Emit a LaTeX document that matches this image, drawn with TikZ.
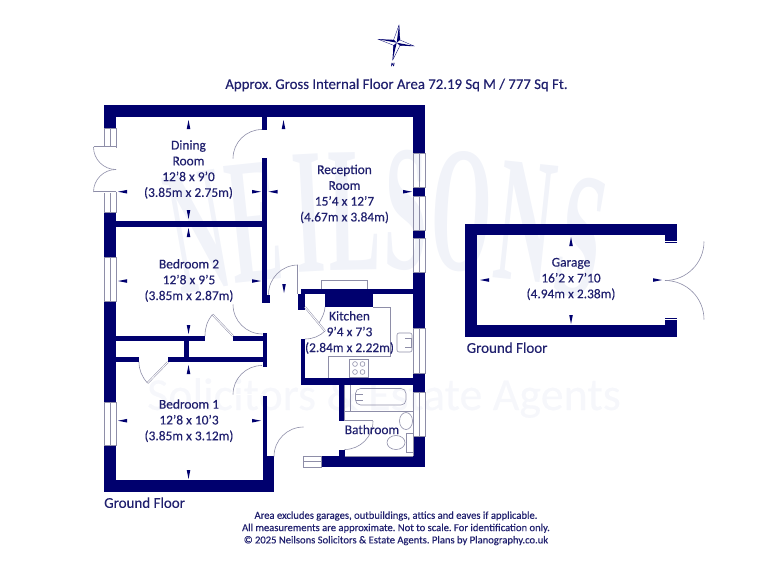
\documentclass[tikz,border=0pt]{standalone}
\usepackage{fontspec}
\setmainfont[RawFeature={embolden=0.3}]{Carlito}
\newfontfamily\stampfont{Liberation Serif}
\definecolor{navy}{HTML}{00006E}
\definecolor{inktext}{HTML}{20206E}
\definecolor{thinline}{HTML}{8E8EA8}
\definecolor{stamp}{HTML}{F1F3F9}
\definecolor{stamplight}{HTML}{F6F7FB}

\newcommand{\wallblock}[4]{\fill[navy] (#1,#2) rectangle (#3,#4);}
\frenchspacing

\begin{document}
\begin{tikzpicture}[x=1pt,y=-1pt,
	roomlabel/.style={align=center,text=inktext,font=\fontsize{13.4}{15.8}\selectfont,inner sep=0pt},
	floorlabel/.style={anchor=west,text=inktext,font=\fontsize{15}{17}\selectfont,inner sep=0pt},
	finenote/.style={align=center,text=inktext,font=\fontsize{10.6}{12.3}\selectfont,inner sep=0pt},
	thin part/.style={draw=thinline,line width=0.6pt},
	door leaf/.style={draw=thinline,line width=0.5pt,double=white,double distance=0.9pt},
	swing/.style={draw=thinline,line width=0.6pt}]
	
	\useasboundingbox (0,0) rectangle (768,576);
	
	% stamp behind the plan
	\foreach \i/\ltr/\x/\y/\r in {1/N/198/232/10,2/E/254/222/6,3/I/309/213/3,4/L/354/211/1,
		5/S/406/210/-1,6/O/462/212/-3,7/N/526/222/-6,8/S/581/238/-10}
		\node[rotate=\r,yscale=2.3,transform shape,text=stamp,inner sep=0pt,
			font=\stampfont\bfseries\fontsize{78}{78}\selectfont] (stamp\i) at (\x,\y) {\ltr};
	\node[text=stamplight,inner sep=0pt,font=\fontsize{46}{50}\selectfont] (stampline) at (384,398) {Solicitors \& Estate Agents};
	
	% outer walls, main flat
	\wallblock{104}{105}{425}{117}
	\wallblock{104}{105}{116}{128}
	\wallblock{104}{212}{116}{257}
	\wallblock{104}{301}{116}{402}
	\wallblock{104}{445}{116}{492}
	\wallblock{104}{480}{274}{492}
	\wallblock{263}{456}{274}{492}
	\wallblock{413}{105}{425}{153}
	\wallblock{413}{187}{425}{196}
	\wallblock{413}{230}{425}{238}
	\wallblock{413}{272}{425}{328}
	\wallblock{413}{373}{425}{392}
	\wallblock{413}{436}{425}{467}
	\wallblock{321}{456}{425}{467}
	
	% inner walls
	\wallblock{262}{117}{267}{130}
	\wallblock{262}{158}{267}{303}
	\wallblock{262}{295}{270}{303}
	\wallblock{116}{221}{262}{226.5}
	\wallblock{116}{336}{205}{341}
	\wallblock{233}{336}{267}{341}
	\wallblock{184}{341}{189}{357}
	\wallblock{116}{357}{139}{362}
	\wallblock{168}{357}{267}{362}
	\wallblock{262.5}{333}{267}{367}
	\wallblock{262.5}{396}{267}{456}
	
	% kitchen and bathroom walls
	\wallblock{301}{289}{413}{293.5}
	\wallblock{325}{289}{373}{307}
	\wallblock{301}{289}{305}{307}
	\wallblock{298}{294}{305}{310}
	\wallblock{301}{339}{305}{385}
	\wallblock{301}{378}{413}{385}
	\wallblock{339}{385}{344.5}{421}
	\wallblock{339}{449.5}{344.5}{456}
	
	% windows
	\foreach \xa/\xb/\ya/\yb in {104/116/257/301,104/116/402/445,413/425/153/187,413/425/196/230,
		413/425/238/272,413/425/328/373,413/425/392/436,104/116/128/147,104/116/192/212} {
		\draw[thin part] (\xa,\ya) rectangle (\xb,\yb);
		\draw[thin part] ({(\xa+\xb)/2},\ya) -- ({(\xa+\xb)/2},\yb);
	}
	
	% doors
	\draw[door leaf] (93.5,147) -- (116,147);
	\draw[swing] (93.5,147) arc[start angle=180,end angle=90,radius=22.5];
	\draw[door leaf] (93.5,192) -- (116,192);
	\draw[swing] (93.5,192) arc[start angle=180,end angle=270,radius=22.5];
	\draw[door leaf] (233,158.5) -- (262,158.5);
	\draw[swing] (233,158.5) arc[start angle=180,end angle=270,radius=29];
	\draw[door leaf] (233,304.5) -- (262.5,304.5);
	\draw[swing] (233,304.5) arc[start angle=180,end angle=90,radius=29.5];
	\draw[door leaf] (233,394.5) -- (262.5,394.5);
	\draw[swing] (233,394.5) arc[start angle=180,end angle=270,radius=29];
	\draw[door leaf] (233,336) -- (212.5,314.5);
	\draw[swing] (212.5,314.5) .. controls (207,321) and (205,328) .. (205,336);
	\draw[door leaf] (168,362) -- (147.5,383);
	\draw[swing] (147.5,383) .. controls (142,377) and (139,370) .. (139,362);
	\draw[door leaf] (298,265) -- (298,294);
	\draw[swing] (298,265) arc[start angle=270,end angle=180,radius=29.5];
	\draw[door leaf] (305,307) -- (325,331);
	\draw[swing] (325,331) .. controls (320,336) and (313,339) .. (305,339);
	\draw[swing] (325,307) .. controls (325,312) and (322,318) .. (319,323);
	\draw[door leaf] (344.5,421) -- (373,421);
	\draw[swing] (373,421) arc[start angle=0,end angle=90,radius=28.5];
	\draw[door leaf] (303.5,427) -- (303.5,456);
	\draw[swing] (303.5,427) arc[start angle=270,end angle=180,radius=29.5];
	\draw[thin part] (303.5,456) rectangle (321,467);
	\draw[thin part] (303.5,461) -- (321,461);
	
	% kitchen fittings
	\draw[thin part] (321,289) -- (321,280) -- (367.5,280) -- (367.5,289);
	\draw[thin part] (373,307) -- (390,307) -- (390,356) -- (328.5,356) -- (328.5,378);
	\draw[thin part,rounded corners=2pt] (397,333) rectangle (412,352);
	\draw[thin part] (405,338) -- (411,338) -- (411,347) -- (405,347);
	\draw[thin part] (349.5,359.5) rectangle (368.5,377);
	\foreach \x in {355,362.5}
		\foreach \y in {364,372}
			\draw[thin part] (\x,\y) circle[radius=2.4];
	
	% bathroom fittings
	\draw[thin part] (344.5,385) -- (344.5,421);
	\draw[thin part] (344.5,411) -- (413,411);
	\draw[thin part] (350,385) -- (350,411);
	\draw[thin part,rounded corners=5pt] (355.5,388.5) rectangle (406,405);
	\draw[thin part] (355.5,394) -- (363,394);
	\draw[thin part] (355.5,400) -- (363,400);
	\draw[thin part] (406,421) ellipse[x radius=6.5,y radius=8.5];
	\draw[thin part] (413,411) -- (413,456);
	\draw[thin part] (396,442.5) ellipse[x radius=9,y radius=7];
	\draw[thin part] (406,433) rectangle (413,452);
	\draw[thin part] (344.5,456) -- (413,456);
	
	% measure marks
	\foreach \x/\y/\dx/\dy in {
		188.5/120/0/9,188.5/219/0/-9,118/191.7/9/0,261/191.7/-9/0,
		188.5/228/0/9,188.5/334/0/-9,118/281/9/0,261/281/-9/0,
		188.5/365/0/9,188.5/479/0/-9,118/420.7/9/0,261/420.7/-9/0,
		283.5/120/0/9,284/293/0/-9,268.5/191.7/9/0,412/191.7/-9/0,
		571/237/0/9,571/324/0/-9,480/280/9/0,662/280/-9/0}
		\fill[navy] (\x,\y) -- ({\x+\dx+0.2*\dy},{\y+\dy+0.2*\dx}) -- ({\x+\dx-0.2*\dy},{\y+\dy-0.2*\dx}) -- cycle;
	
	% garage
	\wallblock{465}{223.5}{677}{235}
	\wallblock{465}{223.5}{477}{337}
	\wallblock{465}{325}{677}{337}
	\wallblock{665}{223.5}{677}{243}
	\wallblock{665}{318}{677}{337}
	\draw[door leaf] (665,241.5) -- (704,241.5);
	\draw[swing] (704,241.5) arc[start angle=0,end angle=90,radius=39];
	\draw[door leaf] (665,319.5) -- (704,319.5);
	\draw[swing] (704,319.5) arc[start angle=0,end angle=-90,radius=39];
	
	% compass
	\fill[navy] (399,25) -- (396.7,42.7) -- (400,40) -- cycle;
	\fill[navy] (392.7,60) -- (396.7,42.7) -- (393.4,45.4) -- cycle;
	\fill[navy] (378.3,39.3) -- (396.7,42.7) -- (393.8,39.8) -- cycle;
	\fill[navy] (414,46) -- (396.7,42.7) -- (399.6,45.6) -- cycle;
	\draw[navy,line width=0.3pt] (399,25) -- (393.4,40.5) -- (378.3,39.3) -- (393.8,45.4) -- (392.7,60)
		-- (400,45.6) -- (414,46) -- (400,40) -- cycle;
	\node[text=navy,inner sep=0pt,font=\bfseries\itshape\fontsize{5}{5}\selectfont] (north) at (392.7,64.5) {N};
	
	% texts
	\node[text=inktext,inner sep=0pt,font=\fontsize{14.8}{17}\selectfont] (title) at (396.5,85) {Approx. Gross Internal Floor Area 72.19 Sq M / 777 Sq Ft.};
	\node[roomlabel] (dining) at (188.5,169.5) {Dining\\Room\\12'8 x 9'0\\(3.85m x 2.75m)};
	\node[roomlabel] (reception) at (344.5,194) {Reception\\Room\\15'4 x 12'7\\(4.67m x 3.84m)};
	\node[roomlabel] (bed2) at (189,280.5) {Bedroom 2\\12'8 x 9'5\\(3.85m x 2.87m)};
	\node[roomlabel] (bed1) at (189,420.7) {Bedroom 1\\12'8 x 10'3\\(3.85m x 3.12m)};
	\node[roomlabel] (kitchen) at (349.5,332.5) {Kitchen\\9'4 x 7'3\\(2.84m x 2.22m)};
	\node[roomlabel] (bathroom) at (372,429.5) {Bathroom};
	\node[roomlabel] (garage) at (571,279) {Garage\\16'2 x 7'10\\(4.94m x 2.38m)};
	\node[floorlabel] (floormain) at (104,502.7) {Ground Floor};
	\node[floorlabel] (floorgarage) at (466.5,347.7) {Ground Floor};
	\node[finenote] (note) at (396,528.3) {Area excludes garages, outbuildings, attics and eaves if applicable.\\All measurements are approximate. Not to scale. For identification only.\\\textcopyright\ 2025 Neilsons Solicitors \& Estate Agents. Plans by Planography.co.uk};
\end{tikzpicture}
\end{document}
